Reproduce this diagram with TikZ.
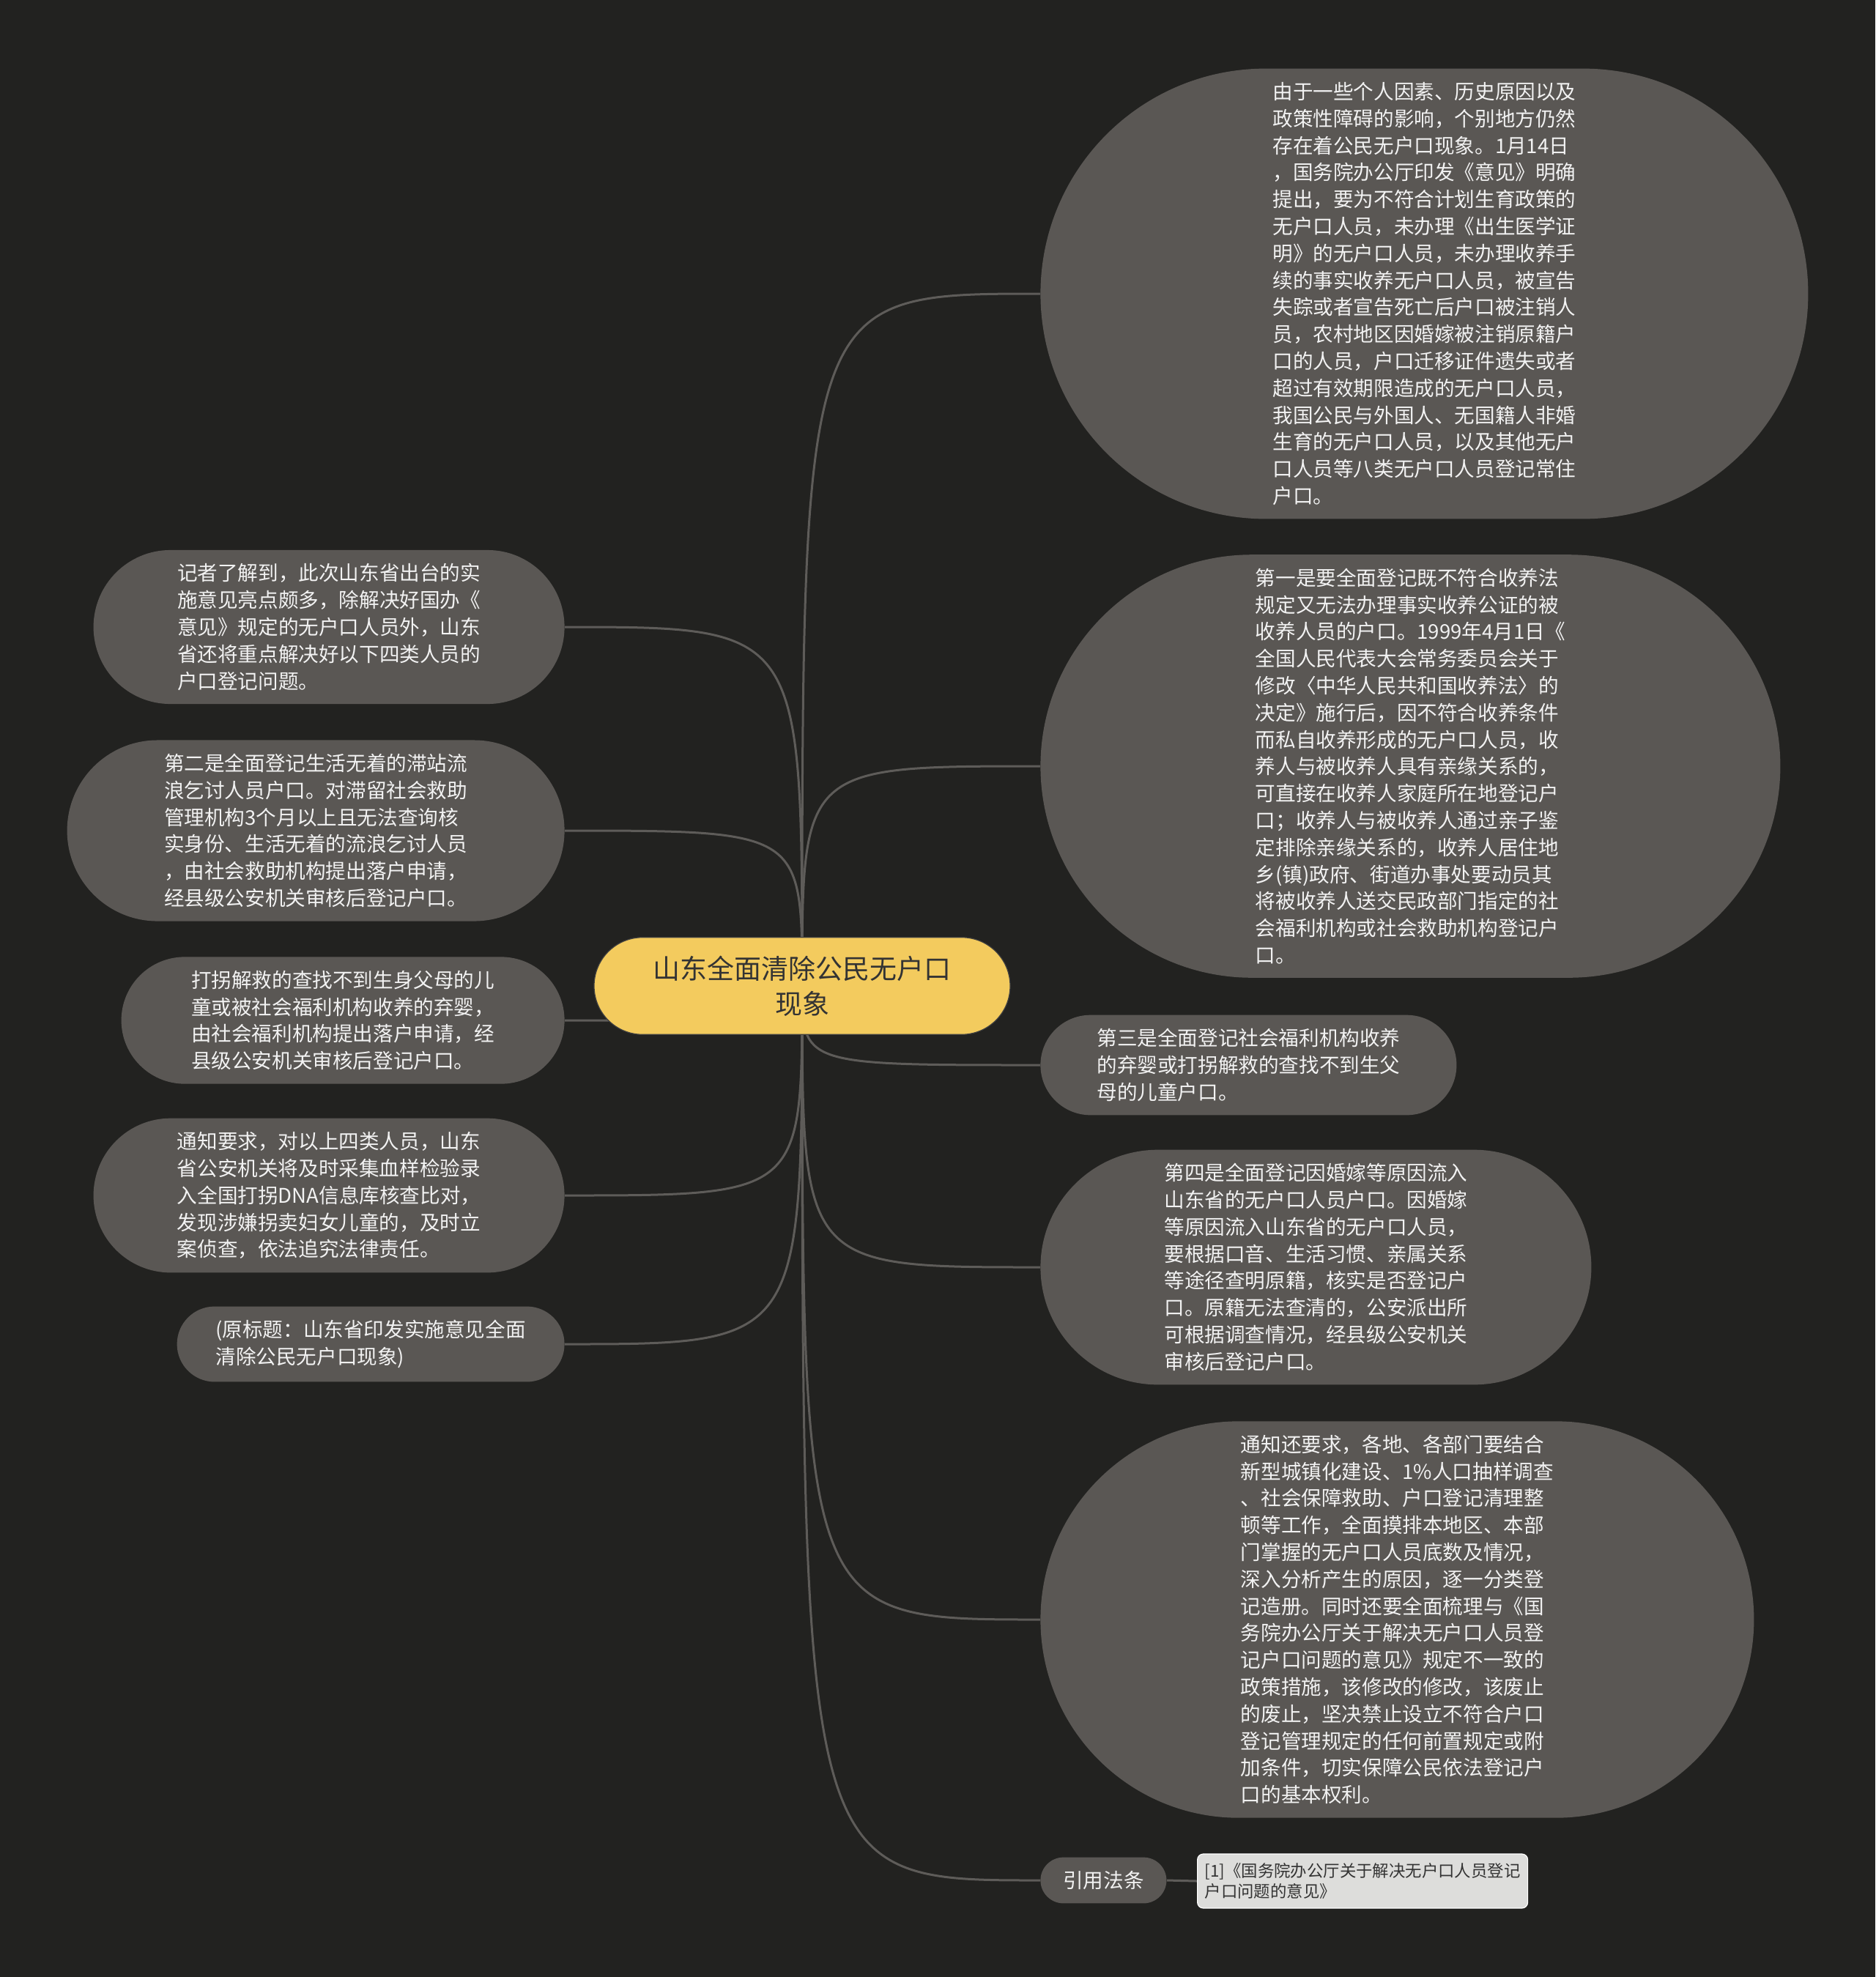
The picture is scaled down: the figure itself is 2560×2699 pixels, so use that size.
\documentclass[tikz,border=0pt]{standalone}
\usepackage{fontspec}
\newfontfamily\cjk{Noto Sans CJK SC}
\usetikzlibrary{shapes.misc}

\definecolor{bgdark}{HTML}{222220}
\definecolor{topicgray}{HTML}{5A5754}
\definecolor{linegray}{HTML}{5E5C59}
\definecolor{rootyellow}{HTML}{F3CB5E}
\definecolor{refgray}{HTML}{DDDDDB}
\definecolor{textwhite}{HTML}{F2F2F2}

\pgfdeclarelayer{backdrop}
\pgfdeclarelayer{links}
\pgfsetlayers{backdrop,links,main}

\begin{document}
\begin{tikzpicture}[x=0.5pt, y=-0.5pt,
    topic/.style={rounded rectangle, fill=topicgray, text=textwhite, align=left,
      inner xsep=2pt, inner ysep=9.3pt, font=\fontsize{13.8pt}{18.4pt}\selectfont\cjk},
    rootnode/.style={rounded rectangle, fill=rootyellow, draw=black!75, line width=0.6pt,
      text=black!80, align=center, inner xsep=5pt, inner ysep=12.5pt, minimum width=294pt,
      font=\fontsize{18.5pt}{24pt}\selectfont\cjk},
    refbox/.style={rectangle, rounded corners=4pt, fill=refgray, draw=white, line width=0.6pt,
      text=black!80, align=left, inner xsep=5pt, inner ysep=6pt, minimum width=225.5pt,
      minimum height=37pt, font=\fontsize{11.2pt}{14pt}\selectfont\cjk},
    link/.style={draw=linegray, line width=1.5pt}]

  \begin{pgfonlayer}{backdrop}
    \fill[bgdark] (0,0) rectangle (2560,2699);
  \end{pgfonlayer}

  % central topic
  \node[rootnode] (root) at (1095,1346) {山东全面清除公民无户口\\现象};

  % right side
  \node[topic, anchor=west, minimum width=528pt] (r1) at (1420,401) {由于一些个人因素、历史原因以及\\政策性障碍的影响，个别地方仍然\\存在着公民无户口现象。1月14日\\，国务院办公厅印发《意见》明确\\提出，要为不符合计划生育政策的\\无户口人员，未办理《出生医学证\\明》的无户口人员，未办理收养手\\续的事实收养无户口人员，被宣告\\失踪或者宣告死亡后户口被注销人\\员，农村地区因婚嫁被注销原籍户\\口的人员，户口迁移证件遗失或者\\超过有效期限造成的无户口人员，\\我国公民与外国人、无国籍人非婚\\生育的无户口人员，以及其他无户\\口人员等八类无户口人员登记常住\\户口。};
  \node[topic, anchor=west, minimum width=509pt] (r2) at (1420,1046) {第一是要全面登记既不符合收养法\\规定又无法办理事实收养公证的被\\收养人员的户口。1999年4月1日《\\全国人民代表大会常务委员会关于\\修改〈中华人民共和国收养法〉的\\决定》施行后，因不符合收养条件\\而私自收养形成的无户口人员，收\\养人与被收养人具有亲缘关系的，\\可直接在收养人家庭所在地登记户\\口；收养人与被收养人通过亲子鉴\\定排除亲缘关系的，收养人居住地\\乡(镇)政府、街道办事处要动员其\\将被收养人送交民政部门指定的社\\会福利机构或社会救助机构登记户\\口。};
  \node[topic, anchor=west, minimum width=288pt] (r3) at (1420,1454) {第三是全面登记社会福利机构收养\\的弃婴或打拐解救的查找不到生父\\母的儿童户口。};
  \node[topic, anchor=west, minimum width=380pt] (r4) at (1420,1730) {第四是全面登记因婚嫁等原因流入\\山东省的无户口人员户口。因婚嫁\\等原因流入山东省的无户口人员，\\要根据口音、生活习惯、亲属关系\\等途径查明原籍，核实是否登记户\\口。原籍无法查清的，公安派出所\\可根据调查情况，经县级公安机关\\审核后登记户口。};
  \node[topic, anchor=west, minimum width=491pt] (r5) at (1420,2211) {通知还要求，各地、各部门要结合\\新型城镇化建设、1\%人口抽样调查\\、社会保障救助、户口登记清理整\\顿等工作，全面摸排本地区、本部\\门掌握的无户口人员底数及情况，\\深入分析产生的原因，逐一分类登\\记造册。同时还要全面梳理与《国\\务院办公厅关于解决无户口人员登\\记户口问题的意见》规定不一致的\\政策措施，该修改的修改，该废止\\的废止，坚决禁止设立不符合户口\\登记管理规定的任何前置规定或附\\加条件，切实保障公民依法登记户\\口的基本权利。};
  \node[topic, anchor=west, minimum width=90pt] (cite) at (1420,2567) {引用法条};
  \node[refbox, anchor=west] (ref) at (1634,2568) {[1]《国务院办公厅关于解决无户口人员登记\\户口问题的意见》};

  % left side
  \node[topic, anchor=east, minimum width=325.5pt] (l1) at (771,856) {记者了解到，此次山东省出台的实\\施意见亮点颇多，除解决好国办《\\意见》规定的无户口人员外，山东\\省还将重点解决好以下四类人员的\\户口登记问题。};
  \node[topic, anchor=east, minimum width=343.5pt] (l2) at (771,1134) {第二是全面登记生活无着的滞站流\\浪乞讨人员户口。对滞留社会救助\\管理机构3个月以上且无法查询核\\实身份、生活无着的流浪乞讨人员\\，由社会救助机构提出落户申请，\\经县级公安机关审核后登记户口。};
  \node[topic, anchor=east, minimum width=306.5pt] (l3) at (771,1393) {打拐解救的查找不到生身父母的儿\\童或被社会福利机构收养的弃婴，\\由社会福利机构提出落户申请，经\\县级公安机关审核后登记户口。};
  \node[topic, anchor=east, minimum width=325.5pt] (l4) at (771,1632) {通知要求，对以上四类人员，山东\\省公安机关将及时采集血样检验录\\入全国打拐DNA信息库核查比对，\\发现涉嫌拐卖妇女儿童的，及时立\\案侦查，依法追究法律责任。};
  \node[topic, anchor=east, minimum width=268.5pt] (l5) at (771,1835) {(原标题：山东省印发实施意见全面\\清除公民无户口现象)};

  % connectors
  \begin{pgfonlayer}{links}
    \draw[link] (root.center) .. controls (root.center |- r1.west) .. (r1.west);
    \draw[link] (root.center) .. controls (root.center |- r2.west) .. (r2.west);
    \draw[link] (root.center) .. controls (root.center |- r3.west) .. (r3.west);
    \draw[link] (root.center) .. controls (root.center |- r4.west) .. (r4.west);
    \draw[link] (root.center) .. controls (root.center |- r5.west) .. (r5.west);
    \draw[link] (root.center) .. controls (root.center |- cite.west) .. (cite.west);
    \draw[link] (cite.east) -- (ref.west);
    \draw[link] (root.center) .. controls (root.center |- l1.east) .. (l1.east);
    \draw[link] (root.center) .. controls (root.center |- l2.east) .. (l2.east);
    \draw[link] (root.center) .. controls (root.center |- l3.east) .. (l3.east);
    \draw[link] (root.center) .. controls (root.center |- l4.east) .. (l4.east);
    \draw[link] (root.center) .. controls (root.center |- l5.east) .. (l5.east);
  \end{pgfonlayer}

\end{tikzpicture}
\end{document}
